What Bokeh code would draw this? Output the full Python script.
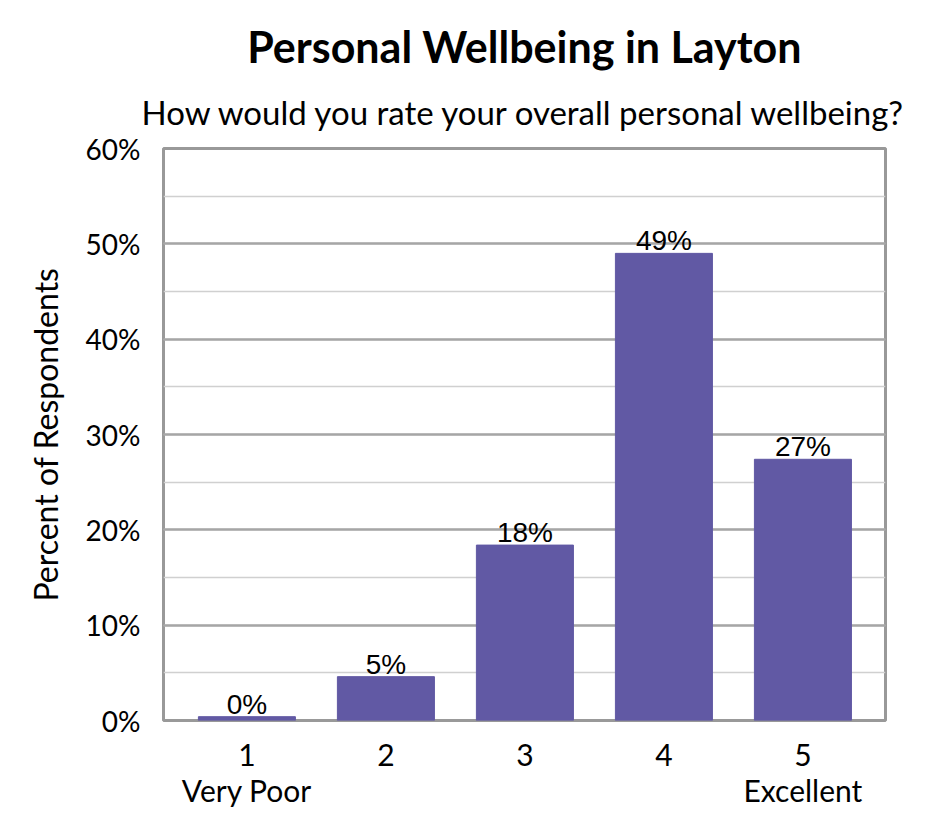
from bokeh.plotting import figure
from bokeh.models import ColumnDataSource, Title, SingleIntervalTicker, FixedTicker, PrintfTickFormatter, Range1d
from bokeh.core.properties import value
from bokeh.embed import file_html
from bokeh.resources import INLINE

ratings = [1, 2, 3, 4, 5]
rating_names = ["1\nVery Poor", "2", "3", "4", "5\nExcellent"]
percents = [0.4, 4.6, 18.4, 49.0, 27.4]
labels = ["0%", "5%", "18%", "49%", "27%"]

src = ColumnDataSource(data=dict(x=ratings, top=percents, label=labels))

p = figure(width=925, height=820, title=None,
           output_backend="svg", toolbar_location=None,
           min_border_left=163, min_border_right=40,
           min_border_top=148, min_border_bottom=100)
# Excel-style padding: bars sit a bit closer together than the plot width
p.x_range = Range1d(0.4, 5.594)
p.y_range = Range1d(0, 60)

p.add_layout(Title(text="How would you rate your overall personal wellbeing?",
                   text_font="Lato", text_font_size="33px", text_font_style="normal",
                   text_color="black", align="center", standoff=33), "above")
p.add_layout(Title(text="Personal Wellbeing in Layton",
                   text_font="Lato", text_font_size="43px", text_font_style="bold",
                   text_color="black", align="center", standoff=3), "above")

p.vbar(x="x", top="top", width=0.698, source=src, color="#6159A4")
p.text(x="x", y="top", text="label", source=src, text_align="center",
       text_baseline="bottom", y_offset=3, text_font=value("Liberation Sans"),
       text_font_size="28px", text_color="black")

p.yaxis.ticker = SingleIntervalTicker(interval=10, num_minor_ticks=2)
p.yaxis.formatter = PrintfTickFormatter(format="%d%%")
p.yaxis.axis_label = "Percent of Respondents"
p.yaxis.axis_label_text_font = "Lato"
p.yaxis.axis_label_text_font_size = "32px"
p.yaxis.axis_label_text_font_style = "normal"
p.yaxis.axis_label_text_color = "black"
p.yaxis.axis_label_standoff = 18

p.xaxis.ticker = FixedTicker(ticks=ratings)
p.xaxis.major_label_overrides = dict(zip(ratings, rating_names))

for ax in (p.xaxis, p.yaxis):
    ax.major_label_text_font = "Lato"
    ax.major_label_text_font_size = "28px"
    ax.major_label_text_color = "black"
    ax.major_tick_line_color = None
    ax.minor_tick_line_color = None
    ax.axis_line_color = None
    ax.major_label_standoff = 17

p.xaxis.major_label_text_font_size = "30px"
p.xaxis.major_label_text_line_height = 1.0
p.xaxis.major_label_standoff = 9

p.xgrid.grid_line_color = None
p.ygrid.grid_line_color = "#a6a6a6"
p.ygrid.grid_line_width = 2.5
p.ygrid.minor_grid_line_color = "#d0d0d0"
p.ygrid.minor_grid_line_width = 1.5

p.outline_line_color = "#999999"
p.outline_line_width = 3
p.background_fill_color = "white"
p.border_fill_color = "white"

open("out.html", "w").write(file_html(p, INLINE))
